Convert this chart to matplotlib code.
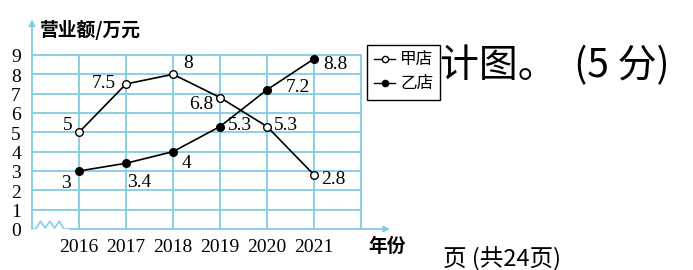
import matplotlib
matplotlib.use("Agg")
import matplotlib.pyplot as plt
from matplotlib.lines import Line2D

years = [2016, 2017, 2018, 2019, 2020, 2021]
year_labels = ["2016", "2017", "2018", "2019", "2020", "2021"]
shop_a = [5, 7.5, 8, 6.8, 5.3, 2.8]
shop_b = [3, 3.4, 4, 5.3, 7.2, 8.8]
shop_a_labels = ["5", "7.5", "8", "6.8", "5.3", "2.8"]
shop_b_labels = ["3", "3.4", "4", "5.3", "7.2", "8.8"]
y_ticks = list(range(10))
name_a = "甲店"
name_b = "乙店"
y_title = "营业额/万元"
x_title = "年份"

CJK = ["Noto Sans CJK SC", "DejaVu Sans"]
SERIF = ["Liberation Serif", "DejaVu Serif"]
GRID = "#84cbe6"

W, H = 693, 270
fig = plt.figure(figsize=(W / 100, H / 100), dpi=100)
fig.patch.set_facecolor("white")

# axes: x 2015..2023 -> px 32..408 ; y 0..11 -> px 229..16.3
ax = fig.add_axes([32 / W, (H - 229) / H, 376 / W, 212.7 / H])
ax.set_xlim(2015, 2023)
ax.set_ylim(0, 11)
ax.axis("off")

# grid
for v in range(1, 10):
    ax.plot([2015, 2022], [v, v], color=GRID, lw=1.3, zorder=1)
for x in range(2016, 2023):
    ax.plot([x, x], [0, 9], color=GRID, lw=1.3, zorder=1)

# y axis with arrow
ax.annotate("", xy=(2015, 10.85), xytext=(2015, 0),
            arrowprops=dict(arrowstyle="-|>", color=GRID, lw=1.3,
                            mutation_scale=9, shrinkA=0, shrinkB=0))
# x axis with arrow (after break)
ax.annotate("", xy=(2022.62, 0), xytext=(2015.8, 0),
            arrowprops=dict(arrowstyle="-|>", color=GRID, lw=1.3,
                            mutation_scale=9, shrinkA=0, shrinkB=0))
# break zigzag
zx = [2015.0, 2015.08, 2015.18, 2015.28, 2015.38, 2015.48, 2015.58, 2015.68, 2015.8]
zy = [0.0, 0.0, 0.4, 0.05, 0.4, 0.05, 0.4, 0.0, 0.0]
ax.plot(zx, zy, color=GRID, lw=1.2, zorder=1)

# lines
ax.plot(years, shop_a, color="black", lw=1.2, marker="o", ms=5.5,
        mfc="white", mec="black", mew=1.0, zorder=3, label=name_a)
ax.plot(years, shop_b, color="black", lw=1.2, marker="o", ms=5.5,
        mfc="black", mec="black", zorder=3, label=name_b)

# tick labels
for y in y_ticks:
    ax.annotate(str(y), (2015, y), xytext=(-8, -2), textcoords="offset points",
                ha="right", va="center", fontsize=14, family=SERIF)
for x, lab in zip(years, year_labels):
    ax.annotate(lab, (x, 0), xytext=(0, -13), textcoords="offset points",
                ha="center", va="center", fontsize=14, family=SERIF)

# data labels (offsets in px converted to points)
px = 0.72
a_off = [(-11, 7, "center"), (-10, 0, "right"), (15, 11, "center"),
         (-7, -7, "right"), (7, 1, "left"), (7, -5, "left")]
b_off = [(-13, -13, "center"), (1, -19, "left"), (13, -12, "center"),
         (8, 1, "left"), (19, 2, "left"), (9, -6, "left")]
for x, y, lab, (dx, dy, ha) in zip(years, shop_a, shop_a_labels, a_off):
    ax.annotate(lab, (x, y), xytext=(dx * px, dy * px), textcoords="offset points",
                ha=ha, va="center", fontsize=14, family=SERIF, zorder=4)
for x, y, lab, (dx, dy, ha) in zip(years, shop_b, shop_b_labels, b_off):
    ax.annotate(lab, (x, y), xytext=(dx * px, dy * px), textcoords="offset points",
                ha=ha, va="center", fontsize=14, family=SERIF, zorder=4)

# axis titles
fig.text(40 / W, 1 - 30 / H, y_title, ha="left", va="center", fontsize=13.5,
         family=CJK, fontweight="bold")
fig.text(387 / W, 1 - 246 / H, x_title, ha="center", va="center", fontsize=13.5,
         family=CJK, fontweight="bold")

# legend
handles = [Line2D([], [], color="black", lw=1.0, marker="o", ms=4.5, mfc="white", mec="black"),
           Line2D([], [], color="black", lw=1.0, marker="o", ms=4.5, mfc="black", mec="black")]
leg = fig.legend(handles, [name_a, name_b], loc="upper left",
                 bbox_to_anchor=(367 / W, 1 - 45 / H), bbox_transform=fig.transFigure,
                 frameon=True, fancybox=False, edgecolor="black", framealpha=1,
                 borderaxespad=0, borderpad=0.4, labelspacing=0.45,
                 handlelength=1.3, handletextpad=0.3,
                 prop=dict(family=CJK, size=12))
leg.get_frame().set_linewidth(1.0)

# surrounding page text
fig.text(440 / W, 1 - 66 / H, "计图。  (5 分)", ha="left", va="center",
         fontsize=28, family=CJK, fontweight="light")
fig.text(443 / W, 1 - 266 / H, "页 (共24页)", ha="left", va="baseline",
         fontsize=17, family=CJK)

fig.savefig("out.png", dpi=100, facecolor="white")
